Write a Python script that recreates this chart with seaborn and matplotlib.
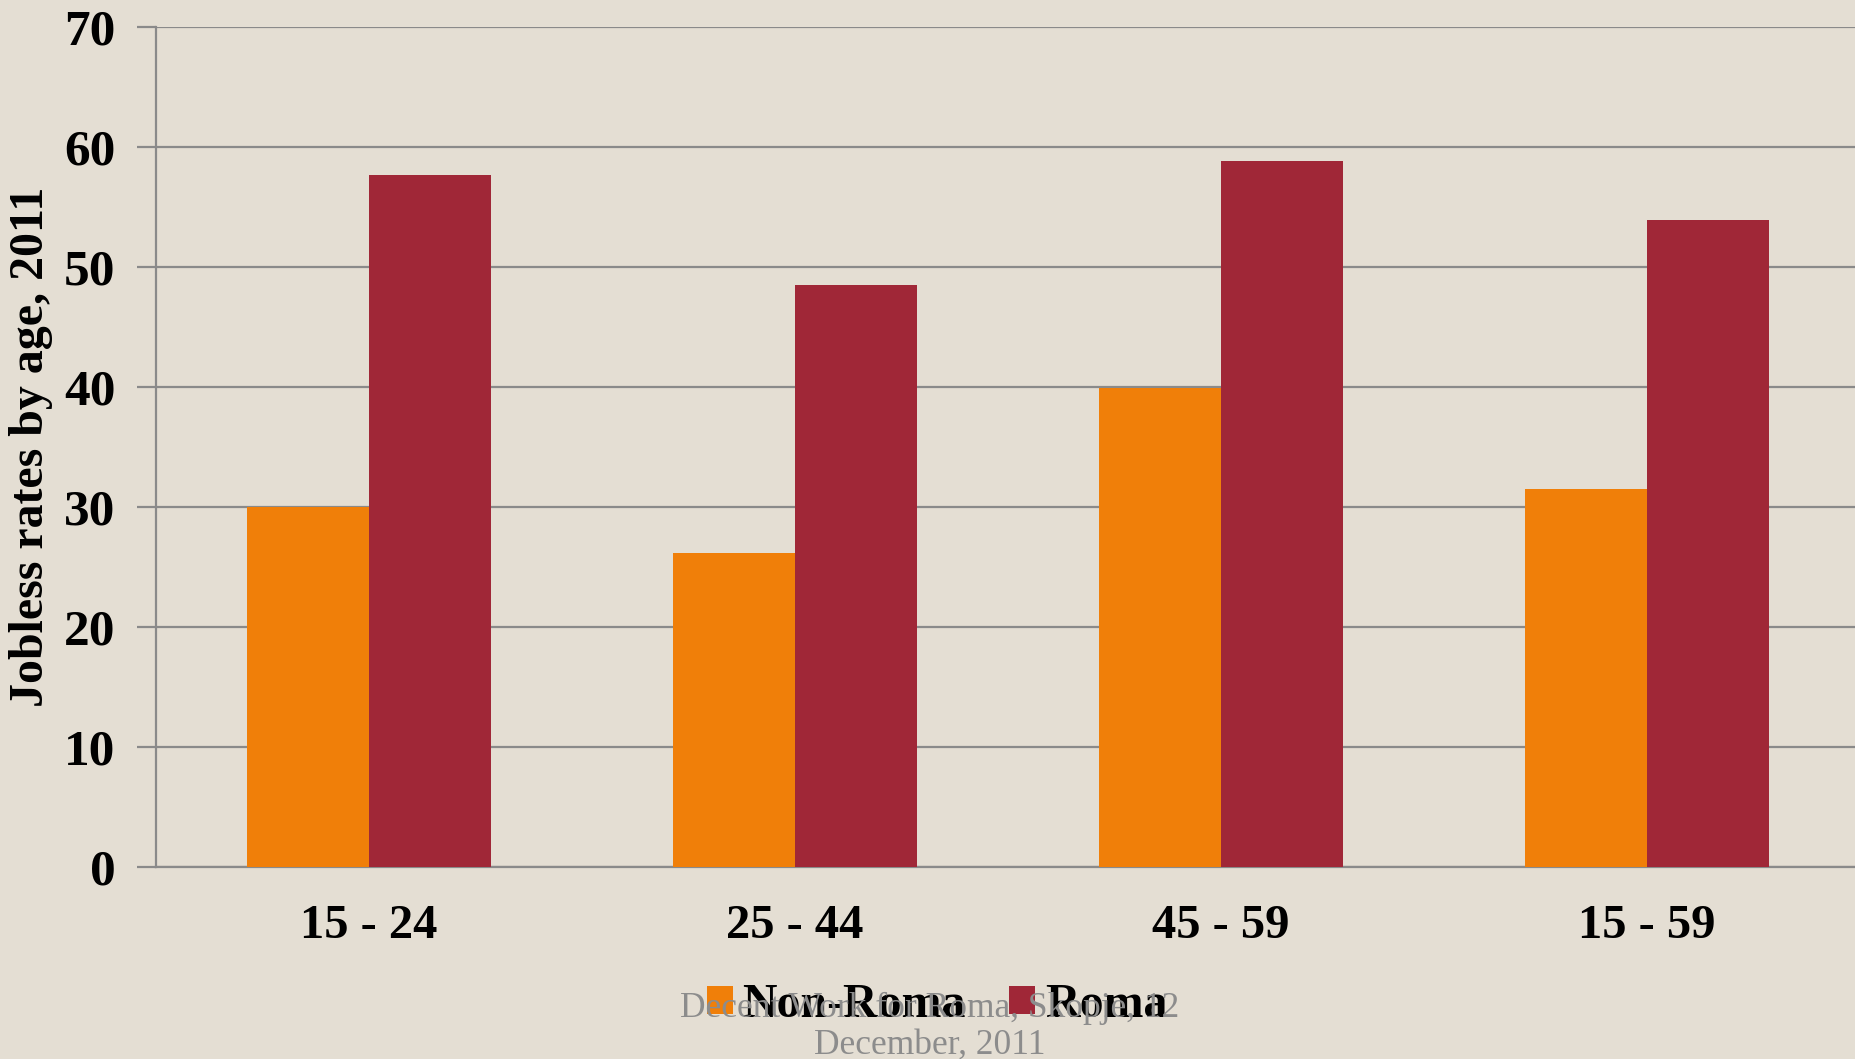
import matplotlib
matplotlib.use("Agg")
import matplotlib.pyplot as plt
import seaborn as sns
import pandas as pd
from matplotlib.patches import Patch

categories = ["15 - 24", "25 - 44", "45 - 59", "15 - 59"]
non_roma = [30.0, 26.2, 39.9, 31.5]
roma = [57.7, 48.5, 58.8, 53.9]
series_names = ["Non-Roma", "Roma"]
yticks = [0, 10, 20, 30, 40, 50, 60, 70]

df = pd.DataFrame({
    "Age": categories * 2,
    "Rate": non_roma + roma,
    "Group": [series_names[0]] * len(categories) + [series_names[1]] * len(categories),
})

bg = "#E4DED3"
colors = {"Non-Roma": "#F07F09", "Roma": "#A02737"}

sns.set_theme(style="white")
plt.rcParams['font.family'] = ['Liberation Serif', 'DejaVu Serif']
plt.rcParams['text.color'] = 'black'
plt.rcParams['axes.labelcolor'] = 'black'
plt.rcParams['xtick.labelcolor'] = 'black'
plt.rcParams['ytick.labelcolor'] = 'black'

fig = plt.figure(figsize=(18.55, 10.59), dpi=100, facecolor=bg)
ax = fig.add_axes([156/1855, 1-867/1059, 1704/1855, 840/1059])
ax.set_facecolor(bg)

sns.barplot(data=df, x="Age", y="Rate", hue="Group", palette=colors,
            width=0.573, ax=ax, saturation=1, edgecolor="none", legend=False,
            zorder=3)

ax.set_ylim(0, 70)
ax.set_xlim(-0.5, 3.5)
ax.set_yticks(yticks)
ax.set_yticklabels([str(t) for t in yticks], fontsize=37, fontweight="bold", color="black")
ax.yaxis.grid(True, color="#8A8A8A", linewidth=1.6, zorder=0)
ax.set_axisbelow(True)

ax.set_xticks(range(len(categories)))
ax.set_xticklabels(categories, fontsize=35, fontweight="bold", color="black")
ax.set_xticks([-0.5, 0.5, 1.5, 2.5, 3.5], minor=True)
ax.tick_params(axis="x", which="major", length=0, pad=27)
ax.tick_params(axis="x", which="minor", length=15, width=1.6, color="#8A8A8A", direction="out")
ax.tick_params(axis="y", length=14, width=1.6, color="#8A8A8A", direction="out", pad=15, left=True)

for s in ["top", "right"]:
    ax.spines[s].set_visible(False)
for s in ["left", "bottom"]:
    ax.spines[s].set_color("#8A8A8A")
    ax.spines[s].set_linewidth(1.6)

ax.set_xlabel("")
ax.set_ylabel("Jobless rates by age, 2011", fontsize=34.5, fontweight="bold", color="black")
ax.yaxis.set_label_coords(-(156-53)/1704, 0.5)

handles = [Patch(facecolor=colors[n], edgecolor="none") for n in series_names]
leg = fig.legend(handles, series_names, loc="center", bbox_to_anchor=(937/1855, 1-1005/1059),
                 ncol=2, frameon=False, prop={"size": 34.5, "weight": "bold"},
                 handlelength=0.55, handleheight=0.55, handletextpad=0.2, columnspacing=0.9)
for t in leg.get_texts():
    t.set_color("black")

fig.text(930/1855, 1-1008/1059, "Decent Work for Roma, Skopje, 12", ha="center", va="center",
         fontsize=25.5, color="#8C8C8C", zorder=10)
fig.text(930/1855, 1-1045/1059, "December, 2011", ha="center", va="center",
         fontsize=25.5, color="#8C8C8C", zorder=10)

fig.savefig("out.png", dpi=100, facecolor=bg)
